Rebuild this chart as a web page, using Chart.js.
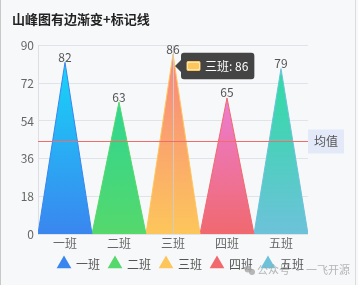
<!DOCTYPE html>
<html lang="zh">
<head>
<meta charset="UTF-8">
<title>山峰图有边渐变+标记线</title>
<script src="https://cdn.jsdelivr.net/npm/chart.js@4.4.0/dist/chart.umd.min.js"></script>
<style>
  html, body { margin: 0; padding: 0; background: #f7f8fa; }
  #wrap { width: 358px; height: 285px; position: relative; }
  #wrap:before { content: ''; position: absolute; left: 0; top: 0; bottom: 0; width: 1px; background: #c8c8c8; }
  #wrap:after { content: ''; position: absolute; right: 2px; top: 0; bottom: 0; width: 1px; background: #dcdcdc; }
</style>
</head>
<body>
<div id="wrap"><canvas id="c" width="358" height="285"></canvas></div>
<script>
// datos
const categorias = ['一班', '二班', '三班', '四班', '五班'];
const valores = [82, 63, 86, 65, 79];
const coloresBase = ['#3a86ef', '#55d86c', '#fdc65b', '#f0696f', '#6dc2da'];
const coloresCima = ['#17d5f8', '#2fd692', '#f8857f', '#ec7dd2', '#2edca2'];
const yTicks = [0, 18, 36, 54, 72, 90];
const valorMedia = 44.6;
const marcaTexto = '均值';
const activo = 2; // 三班 con tooltip

const FONT = "'Noto Sans CJK SC', 'Noto Sans', sans-serif";

// un triángulo por clase: base en i±0.5, cima en i
const datasets = categorias.map((cat, i) => ({
  label: cat,
  data: [
    { x: i - 0.5, y: 0 },
    { x: i, y: valores[i] },
    { x: i + 0.5, y: 0 }
  ],
  fill: 'origin',
  tension: 0,
  borderWidth: 1,
  borderColor: coloresBase[i],
  pointRadius: 0,
  pointHoverRadius: 0,
  backgroundColor: function(ctx) {
    const chart = ctx.chart;
    if (!chart.chartArea) return coloresBase[i];
    const y = chart.scales.y;
    const g = chart.ctx.createLinearGradient(0, y.getPixelForValue(valores[i]), 0, y.getPixelForValue(0));
    g.addColorStop(0, coloresCima[i]);
    g.addColorStop(1, coloresBase[i]);
    return g;
  }
}));

// etiquetas de valor, línea media y puntero vertical
const extras = {
  id: 'extras',
  afterLayout(chart) {
    // mover la leyenda a su sitio
    const l = chart.legend;
    l.left += 21; l.right += 21;
    l.top -= 5; l.bottom -= 5;
  },
  afterDatasetsDraw(chart) {
    const c = chart.ctx;
    const area = chart.chartArea;
    const xs = chart.scales.x, ys = chart.scales.y;
    c.save();
    // puntero vertical
    const px = Math.round(xs.getPixelForValue(activo)) + 0.5;
    c.strokeStyle = 'rgba(205,205,205,0.9)';
    c.lineWidth = 1;
    c.beginPath();
    c.moveTo(px, area.top);
    c.lineTo(px, area.bottom);
    c.stroke();
    // línea media
    const my = Math.round(ys.getPixelForValue(valorMedia)) + 0.5;
    c.strokeStyle = '#f26a6a';
    c.beginPath();
    c.moveTo(area.left, my);
    c.lineTo(area.right, my);
    c.stroke();
    c.fillStyle = '#e3e9f8';
    c.fillRect(area.right, my - 12, 36, 24);
    c.fillStyle = '#555';
    c.font = '12px ' + FONT;
    c.textAlign = 'center';
    c.textBaseline = 'middle';
    c.fillText(marcaTexto, area.right + 18, my);
    // valores
    c.textBaseline = 'bottom';
    chart.data.datasets.forEach((ds, i) => {
      const p = chart.getDatasetMeta(i).data[1];
      c.fillText(String(valores[i]), p.x, p.y + 1);
    });
    // marca de agua
    c.fillStyle = 'rgba(165,165,165,0.8)';
    c.beginPath(); c.arc(248, 269, 3.5, 0, Math.PI * 2); c.fill();
    c.beginPath(); c.arc(252, 272, 3, 0, Math.PI * 2); c.fill();
    c.textAlign = 'left';
    c.textBaseline = 'middle';
    c.font = '11px ' + FONT;
    c.fillText('公众号 · 一飞开源', 257, 270);
    c.restore();
  }
};

Chart.Tooltip.positioners.fijo = function() {
  const chart = this.chart;
  return { x: chart.scales.x.getPixelForValue(activo), y: 66 };
};

const chart = new Chart(document.getElementById('c'), {
  type: 'line',
  data: { datasets: datasets },
  options: {
    responsive: false,
    animation: false,
    events: [],
    layout: { padding: { left: 12, right: 50, top: 0, bottom: 0 } },
    plugins: {
      title: {
        display: true,
        text: '山峰图有边渐变+标记线',
        align: 'start',
        color: '#222',
        font: { family: FONT, size: 13, weight: 'bold' },
        padding: { top: 11, bottom: 19 }
      },
      legend: {
        position: 'bottom',
        labels: {
          usePointStyle: true,
          color: '#555',
          padding: 9,
          font: { family: FONT, size: 12 },
          generateLabels: function(chart) {
            return chart.data.datasets.map((ds, i) => ({
              text: ds.label,
              fillStyle: coloresBase[i],
              strokeStyle: coloresBase[i],
              lineWidth: 0,
              pointStyle: 'triangle',
              fontColor: '#555',
              datasetIndex: i
            }));
          }
        }
      },
      tooltip: {
        position: 'fijo',
        xAlign: 'left',
        yAlign: 'center',
        caretSize: 6,
        caretPadding: 2,
        backgroundColor: 'rgba(58,58,58,0.95)',
        bodyColor: '#fff',
        bodyFont: { family: FONT, size: 12 },
        padding: 6,
        cornerRadius: 3,
        boxWidth: 13,
        boxHeight: 9,
        boxPadding: 3,
        displayColors: true,
        callbacks: {
          title: () => '',
          label: (ctx) => categorias[ctx.datasetIndex] + ': ' + valores[ctx.datasetIndex],
          labelColor: (ctx) => ({
            borderColor: coloresBase[ctx.datasetIndex],
            backgroundColor: coloresBase[ctx.datasetIndex],
            borderWidth: 0,
            borderRadius: 1
          })
        }
      }
    },
    scales: {
      x: {
        type: 'linear',
        min: -0.5,
        max: categorias.length - 0.5,
        afterBuildTicks: (s) => { s.ticks = categorias.map((_, i) => ({ value: i })); },
        afterFit: (s) => { s.height = 20; },
        grid: { display: false, drawTicks: false },
        border: { display: false },
        ticks: {
          padding: 2,
          color: '#666',
          font: { family: FONT, size: 12 },
          callback: (v) => categorias[v] || ''
        }
      },
      y: {
        min: 0,
        max: 90,
        afterBuildTicks: (s) => { s.ticks = yTicks.map(v => ({ value: v })); },
        afterFit: (s) => { s.width = 26; },
        grid: { color: '#e0e3e8', drawTicks: false },
        border: { display: true, color: '#dcdfe4' },
        ticks: {
          padding: 4,
          color: '#666',
          font: { family: FONT, size: 12 }
        }
      }
    }
  },
  plugins: [extras]
});

const meta = chart.getDatasetMeta(activo);
chart.tooltip.setActiveElements([{ datasetIndex: activo, index: 1 }], { x: meta.data[1].x, y: meta.data[1].y });
chart.update();
</script>
</body>
</html>
